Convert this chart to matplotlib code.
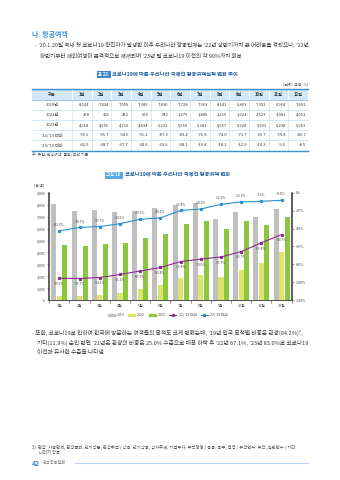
import matplotlib
matplotlib.use('Agg')
import matplotlib.pyplot as plt
import numpy as np
from matplotlib.patches import Rectangle, Patch
from matplotlib.lines import Line2D

plt.rcParams['font.family'] = ['Noto Sans CJK KR', 'DejaVu Sans']
plt.rcParams['axes.unicode_minus'] = False

# ---------------- data ----------------
months = ['1월', '2월', '3월', '4월', '5월', '6월', '7월', '8월', '9월', '10월', '11월', '12월']
pax_2019 = [8024, 7434, 7555, 7389, 7430, 7728, 7963, 8141, 6803, 7352, 6964, 7601]
pax_2022 = [358, 321, 412, 650, 942, 1279, 1845, 2115, 1923, 2523, 3081, 4051]
pax_2023 = [4618, 4556, 4710, 4834, 5233, 5556, 6383, 6657, 5928, 6593, 6298, 6953]
chg_22_19 = [-95.5, -95.7, -94.6, -91.2, -87.3, -83.4, -76.8, -74.0, -71.7, -65.7, -55.8, -46.7]
chg_23_19 = [-42.5, -38.7, -37.7, -34.6, -29.6, -28.1, -19.8, -18.2, -12.9, -10.3, -9.6, -8.5]
table_header = '구분'
row_labels = ['2019년', '2022년', '2023년', '’22/’19 대비', '’23/’19 대비']
series_labels = ['2019', '2022', '2023', '’22/’19 대비', '’23/’19 대비']
left_ticks = [0, 1000, 2000, 3000, 4000, 5000, 6000, 7000, 8000, 9000]
right_ticks = [0, -20, -40, -60, -80, -100, -120]

# ---------------- colours ----------------
C_BLUE = '#3d8fd1'
C_TITLE = '#1f5c9e'
C_TEXT = '#3a3a3a'
C_GRAY = '#bfbfbf'
C_Y22 = '#dce56b'
C_G23 = '#8cc540'
C_L22 = '#8e2a8e'
C_L23 = '#2a8fd0'

W, H = 340, 480
fig = plt.figure(figsize=(3.4, 4.8), dpi=100)
bg = fig.add_axes([0, 0, 1, 1])
bg.set_xlim(0, W)
bg.set_ylim(H, 0)
bg.axis('off')

def T(x, y, s, fs=3.9, color=C_TEXT, ha='left', **kw):
    bg.text(x, y, s, fontsize=fs, color=color, ha=ha, va='center', **kw)

# ---------------- top text ----------------
T(32, 34, '나. 항공여객', fs=5, color=C_BLUE, weight='bold')
T(35, 45, '- ’20.1.20일 국내 첫 코로나19 확진자가 발생한 이후 우리나라 항공업계는 ’22년 상반기까지 큰 어려움을 겪었으나, ’22년', fs=4.0)
T(40, 55.5, '하반기부터 해외여행이 본격적으로 재개되며 ’23년 말 코로나19 이전의 약 90%까지 회복', fs=4.0)

# ---------------- table ----------------
bg.add_patch(Rectangle((96.5, 71), 14, 7, color='#3f86cc', lw=0))
T(103.5, 74.5, '표 22', fs=3.1, color='white', ha='center', weight='bold')
T(112.5, 74.5, '코로나19에 따른 우리나라 국제선 항공여객실적 변화 추이', fs=3.8, color=C_TITLE, weight='bold')
T(308, 84, '(단위: 천명, %)', fs=2.9, color='#555555', ha='right')

tx0, tx1 = 32, 308
c0 = 72
cw = (tx1 - c0) / 12
ty0, th_head = 88.5, 11
rh = 10.2
nrows = len(row_labels)
ty_end = ty0 + th_head + rh * nrows

bg.add_patch(Rectangle((tx0, ty0), tx1 - tx0, th_head, color='#d3e7f7', lw=0))
for i in range(12):
    xv = c0 + i * cw
    bg.plot([xv, xv], [ty0, ty0 + th_head], color='white', lw=0.8)
    bg.plot([xv, xv], [ty0 + th_head, ty_end], color='#c6dcee', lw=0.4)
for r in range(1, nrows):
    yh = ty0 + th_head + r * rh
    bg.plot([tx0, tx1], [yh, yh], color='#b9d4ec', lw=0.4)
bg.plot([tx0, tx1], [ty0 + th_head, ty0 + th_head], color='#7fb5e3', lw=0.5)
bg.plot([tx0, tx1], [ty0, ty0], color=C_BLUE, lw=1.0)
bg.plot([tx0, tx1], [ty_end, ty_end], color=C_BLUE, lw=1.0)

T((tx0 + c0) / 2, ty0 + th_head / 2, table_header, fs=3.0, ha='center', weight='bold')
for j, m in enumerate(months):
    T(c0 + (j + 0.5) * cw, ty0 + th_head / 2, m, fs=3.0, ha='center', weight='bold')

table_rows = [
    [f'{v:,}' for v in pax_2019],
    [f'{v:,}' for v in pax_2022],
    [f'{v:,}' for v in pax_2023],
    [f'{v:.1f}' for v in chg_22_19],
    [f'{v:.1f}' for v in chg_23_19],
]
for r, (lab, vals) in enumerate(zip(row_labels, table_rows)):
    yc = ty0 + th_head + (r + 0.5) * rh
    T((tx0 + c0) / 2, yc, lab, fs=3.0, ha='center')
    for j, s in enumerate(vals):
        T(c0 + (j + 1) * cw - 2.0, yc, s, fs=3.0, ha='right')

T(32, 155.5, '주: 유입+환승여객, 출발+도착 기준', fs=2.8, color='#555555')

# ---------------- figure title ----------------
bg.add_patch(Rectangle((104.5, 171.5), 18, 7, color='#5aa8e4', lw=0))
T(113.5, 175, '그림 18', fs=3.1, color='white', ha='center', weight='bold')
T(125, 175, '코로나19에 따른 우리나라 국제선 항공여객 변화', fs=3.8, color=C_TITLE, weight='bold')
T(34, 185, '(천 명)', fs=2.6, color='#444444')

# ---------------- chart ----------------
axL, axR, axT, axB = 49.3, 291.7, 192.7, 300.3
ax = fig.add_axes([axL / W, 1 - axB / H, (axR - axL) / W, (axB - axT) / H])
x = np.arange(len(months))
bw = 0.25
ax.bar(x - 0.27, pax_2019, bw, color=C_GRAY, lw=0, zorder=2)
ax.bar(x, pax_2022, bw, color=C_Y22, lw=0, zorder=2)
ax.bar(x + 0.27, pax_2023, bw, color=C_G23, lw=0, zorder=2)
ax.set_xlim(-0.5, len(months) - 0.5)
ax.set_ylim(0, 9000)
ax.set_yticks(left_ticks)
ax.set_yticklabels([f'{v:,}' for v in left_ticks])
ax.set_xticks(x)
ax.set_xticklabels(months)
ax.set_xticks(np.arange(-0.5, len(months)), minor=True)
ax.tick_params(axis='x', which='major', length=0, labelsize=2.7, pad=3, colors='#444444')
ax.tick_params(axis='x', which='minor', length=1.8, width=0.4, color='#333333')
ax.tick_params(axis='y', length=1.5, width=0.4, labelsize=2.6, pad=1.5, colors='#444444')
ax.spines['top'].set_visible(False)
ax.spines['left'].set_linewidth(1.1)
ax.spines['left'].set_color('#333333')
ax.spines['right'].set_visible(False)
ax.spines['bottom'].set_linewidth(0.6)
ax.spines['bottom'].set_color('#333333')
ax.patch.set_alpha(0)

ax2 = ax.twinx()
ax2.set_ylim(-120, 0)
ax2.set_yticks(right_ticks)
ax2.set_yticklabels([f'{v}%' for v in right_ticks])
ax2.tick_params(axis='y', length=1.5, width=0.4, labelsize=2.6, pad=1.5, colors='#444444')
for s in ['top', 'left', 'bottom']:
    ax2.spines[s].set_visible(False)
ax2.spines['right'].set_linewidth(1.1)
ax2.spines['right'].set_color('#333333')
ax2.plot(x, chg_22_19, color=C_L22, lw=0.8, marker='s', ms=1.3, zorder=3)
ax2.plot(x, chg_23_19, color=C_L23, lw=0.8, marker='s', ms=1.3, zorder=3)
for xi, v in zip(x, chg_22_19):
    ax2.annotate(f'{v:.1f}%', (xi, v), xytext=(0, -4.2), textcoords='offset points',
                 ha='center', va='center', fontsize=2.3, color='#444444')
for xi, v in zip(x, chg_23_19):
    ax2.annotate(f'{v:.1f}%', (xi, v), xytext=(0, 4.2), textcoords='offset points',
                 ha='center', va='center', fontsize=2.3, color='#444444')

handles = [Patch(color=C_GRAY), Patch(color=C_Y22), Patch(color=C_G23),
           Line2D([], [], color=C_L22, lw=0.8, marker='s', ms=1.3),
           Line2D([], [], color=C_L23, lw=0.8, marker='s', ms=1.3)]
fig.legend(handles, series_labels, loc='center', bbox_to_anchor=(168 / W, 1 - 315 / H),
           ncol=5, frameon=False, fontsize=2.6, handlelength=2.0, handleheight=0.6,
           columnspacing=1.1, handletextpad=0.4, labelcolor='#444444')

# ---------------- paragraph ----------------
T(32, 333, '- 또한, 코로나19로 인하여 한국에 방문하는 여객들의 목적도 크게 변했는데, ’19년 입국 목적별 비중은 관광(84.2%)³,', fs=4.1)
T(37, 342.5, '기타(11.9%) 순인 반면 ’21년은 관광의 비중은 25.0% 수준으로 대폭 하락 후 ’22년 67.1%, ’23년 83.0%로 코로나19', fs=4.1)
T(37, 352, '이전과 유사한 수준을 나타냄', fs=4.1)

# ---------------- footnote & footer ----------------
T(32, 447, '3)  관광: 사증면제, 관광통과, 단기방문, 관광취업 / 상용: 단기상용, 상사주재, 기업투자, 무역경영 / 공용: 공무, 협정 / 유학연수: 유학, 일반연수 / 기타:', fs=3.1, color='#555555')
T(39, 452.5, '나머지 항목', fs=3.1, color='#555555')
T(32, 463, '42', fs=5, color=C_BLUE, weight='bold')
T(43, 463, '한국항공협회', fs=3.0, color='#777777')
bg.plot([75, 308], [463, 463], color='#b5d7f2', lw=0.8)

fig.savefig('out.png', dpi=100)
